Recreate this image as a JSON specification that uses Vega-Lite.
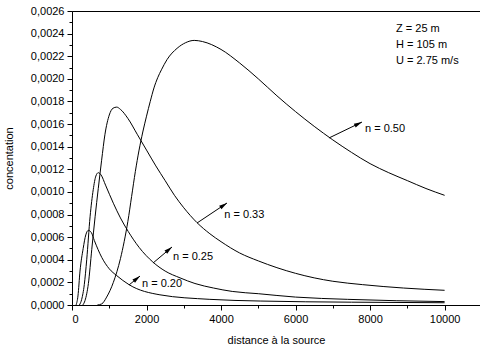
{
  "$schema": "https://vega.github.io/schema/vega-lite/v6.json",
  "width": 408,
  "height": 294,
  "autosize": {"type": "none"},
  "padding": {"left": 72, "top": 11, "right": 0, "bottom": 45},
  "background": "white",
  "config": {
    "view": {"stroke": "black", "strokeWidth": 1},
    "font": "Liberation Sans",
    "axis": {
      "domainColor": "black",
      "tickColor": "black",
      "labelColor": "black",
      "titleColor": "black",
      "labelFont": "Liberation Sans",
      "titleFont": "Liberation Sans",
      "labelFontSize": 11,
      "titleFontSize": 11,
      "titleFontWeight": "normal",
      "labelOverlap": false,
      "labelSeparation": -8,
      "grid": false
    }
  },
  "resolve": {"axis": {"x": "independent", "y": "independent"}},
  "datasets": {
    "curves": [
      {"n": "0.50", "x": 680, "c": 0},
      {"n": "0.50", "x": 800, "c": 0.00001},
      {"n": "0.50", "x": 930, "c": 0.00007},
      {"n": "0.50", "x": 1110, "c": 0.0002},
      {"n": "0.50", "x": 1300, "c": 0.00041},
      {"n": "0.50", "x": 1400, "c": 0.00056},
      {"n": "0.50", "x": 1500, "c": 0.00074},
      {"n": "0.50", "x": 1600, "c": 0.00096},
      {"n": "0.50", "x": 1700, "c": 0.00118},
      {"n": "0.50", "x": 1800, "c": 0.00137},
      {"n": "0.50", "x": 1900, "c": 0.00153},
      {"n": "0.50", "x": 2000, "c": 0.00167},
      {"n": "0.50", "x": 2100, "c": 0.0018},
      {"n": "0.50", "x": 2200, "c": 0.00192},
      {"n": "0.50", "x": 2300, "c": 0.00201},
      {"n": "0.50", "x": 2400, "c": 0.00208},
      {"n": "0.50", "x": 2550, "c": 0.00217},
      {"n": "0.50", "x": 2820, "c": 0.00227},
      {"n": "0.50", "x": 3050, "c": 0.00232},
      {"n": "0.50", "x": 3280, "c": 0.00234},
      {"n": "0.50", "x": 3500, "c": 0.00233},
      {"n": "0.50", "x": 4000, "c": 0.00226},
      {"n": "0.50", "x": 4500, "c": 0.00214},
      {"n": "0.50", "x": 5000, "c": 0.002},
      {"n": "0.50", "x": 5500, "c": 0.00185},
      {"n": "0.50", "x": 6000, "c": 0.00171},
      {"n": "0.50", "x": 6500, "c": 0.00158},
      {"n": "0.50", "x": 7000, "c": 0.00146},
      {"n": "0.50", "x": 7500, "c": 0.00135},
      {"n": "0.50", "x": 8000, "c": 0.00125},
      {"n": "0.50", "x": 8500, "c": 0.00117},
      {"n": "0.50", "x": 9000, "c": 0.0011},
      {"n": "0.50", "x": 9500, "c": 0.00103},
      {"n": "0.50", "x": 10000, "c": 0.00097},

      {"n": "0.33", "x": 290, "c": 0},
      {"n": "0.33", "x": 350, "c": 0.00004},
      {"n": "0.33", "x": 440, "c": 0.00019},
      {"n": "0.33", "x": 530, "c": 0.00049},
      {"n": "0.33", "x": 620, "c": 0.00078},
      {"n": "0.33", "x": 705, "c": 0.00103},
      {"n": "0.33", "x": 795, "c": 0.00128},
      {"n": "0.33", "x": 885, "c": 0.00151},
      {"n": "0.33", "x": 1000, "c": 0.00168},
      {"n": "0.33", "x": 1100, "c": 0.00174},
      {"n": "0.33", "x": 1200, "c": 0.00175},
      {"n": "0.33", "x": 1300, "c": 0.00173},
      {"n": "0.33", "x": 1500, "c": 0.00165},
      {"n": "0.33", "x": 1750, "c": 0.00151},
      {"n": "0.33", "x": 2000, "c": 0.00137},
      {"n": "0.33", "x": 2250, "c": 0.00123},
      {"n": "0.33", "x": 2500, "c": 0.0011},
      {"n": "0.33", "x": 2750, "c": 0.00097},
      {"n": "0.33", "x": 3000, "c": 0.00086},
      {"n": "0.33", "x": 3350, "c": 0.00073},
      {"n": "0.33", "x": 3700, "c": 0.00063},
      {"n": "0.33", "x": 4000, "c": 0.00056},
      {"n": "0.33", "x": 4500, "c": 0.00046},
      {"n": "0.33", "x": 5000, "c": 0.00039},
      {"n": "0.33", "x": 5500, "c": 0.00033},
      {"n": "0.33", "x": 6000, "c": 0.00028},
      {"n": "0.33", "x": 6500, "c": 0.00024},
      {"n": "0.33", "x": 7000, "c": 0.00021},
      {"n": "0.33", "x": 7800, "c": 0.00018},
      {"n": "0.33", "x": 8900, "c": 0.00015},
      {"n": "0.33", "x": 10000, "c": 0.00013},

      {"n": "0.25", "x": 200, "c": 0},
      {"n": "0.25", "x": 260, "c": 0.00005},
      {"n": "0.25", "x": 330, "c": 0.00018},
      {"n": "0.25", "x": 395, "c": 0.0004},
      {"n": "0.25", "x": 485, "c": 0.00078},
      {"n": "0.25", "x": 570, "c": 0.00102},
      {"n": "0.25", "x": 640, "c": 0.00114},
      {"n": "0.25", "x": 705, "c": 0.00117},
      {"n": "0.25", "x": 780, "c": 0.00115},
      {"n": "0.25", "x": 900, "c": 0.00106},
      {"n": "0.25", "x": 1110, "c": 0.0009},
      {"n": "0.25", "x": 1300, "c": 0.00077},
      {"n": "0.25", "x": 1510, "c": 0.00065},
      {"n": "0.25", "x": 1800, "c": 0.00051},
      {"n": "0.25", "x": 2170, "c": 0.00038},
      {"n": "0.25", "x": 2500, "c": 0.0003},
      {"n": "0.25", "x": 2900, "c": 0.00024},
      {"n": "0.25", "x": 3300, "c": 0.00019},
      {"n": "0.25", "x": 3800, "c": 0.00015},
      {"n": "0.25", "x": 4300, "c": 0.00012},
      {"n": "0.25", "x": 5000, "c": 0.0001},
      {"n": "0.25", "x": 6000, "c": 0.00007},
      {"n": "0.25", "x": 7400, "c": 0.00005},
      {"n": "0.25", "x": 10000, "c": 0.00003},

      {"n": "0.20", "x": 110, "c": 0},
      {"n": "0.20", "x": 160, "c": 0.00008},
      {"n": "0.20", "x": 215, "c": 0.0003},
      {"n": "0.20", "x": 300, "c": 0.0005},
      {"n": "0.20", "x": 370, "c": 0.00062},
      {"n": "0.20", "x": 440, "c": 0.00066},
      {"n": "0.20", "x": 520, "c": 0.00064},
      {"n": "0.20", "x": 600, "c": 0.00057},
      {"n": "0.20", "x": 800, "c": 0.00042},
      {"n": "0.20", "x": 1000, "c": 0.00032},
      {"n": "0.20", "x": 1200, "c": 0.00026},
      {"n": "0.20", "x": 1530, "c": 0.00018},
      {"n": "0.20", "x": 2360, "c": 0.00009},
      {"n": "0.20", "x": 3700, "c": 0.00005},
      {"n": "0.20", "x": 5050, "c": 0.000035},
      {"n": "0.20", "x": 7500, "c": 0.000025},
      {"n": "0.20", "x": 10000, "c": 0.00002}
    ],
    "arrows": [
      {"label": "n = 0.50", "xs": 6897, "ys": 0.001477, "xe": 7783, "ye": 0.001618, "tx": 7864, "ty": 0.001557},
      {"label": "n = 0.33", "xs": 3355, "ys": 0.000725, "xe": 4160, "ye": 0.000902, "tx": 4087, "ty": 0.000796},
      {"label": "n = 0.25", "xs": 2174, "ys": 0.000371, "xe": 2684, "ye": 0.000513, "tx": 2711, "ty": 0.000425},
      {"label": "n = 0.20", "xs": 1530, "ys": 0.000177, "xe": 1825, "ye": 0.000256, "tx": 1879, "ty": 0.000186}
    ],
    "params": [
      {"label": "Z = 25 m", "x": 8696, "y": 0.002441},
      {"label": "H = 105 m", "x": 8696, "y": 0.0023},
      {"label": "U = 2.75 m/s", "x": 8696, "y": 0.002158}
    ]
  },
  "layer": [
    {
      "data": {"name": "curves"},
      "mark": {"type": "line", "color": "black", "strokeWidth": 1, "interpolate": "monotone", "clip": true},
      "encoding": {
        "x": {
          "field": "x", "type": "quantitative",
          "scale": {"domain": [0, 10950], "nice": false, "zero": false},
          "axis": {
            "orient": "bottom",
            "title": "distance à la source",
            "values": [0, 2000, 4000, 6000, 8000, 10000],
            "format": "d",
            "labelOverlap": false,
            "tickSize": 5,
            "labelPadding": 3,
            "titlePadding": 10
          }
        },
        "y": {
          "field": "c", "type": "quantitative",
          "scale": {"domain": [0, 0.0026], "nice": false, "zero": false},
          "axis": {
            "orient": "left",
            "title": "concentation",
            "values": [0, 0.0002, 0.0004, 0.0006, 0.0008, 0.001, 0.0012, 0.0014, 0.0016, 0.0018, 0.002, 0.0022, 0.0024, 0.0026],
            "labelOverlap": false,
            "labelExpr": "replace(format(datum.value, '.4f'), '.', ',')",
            "tickSize": 5,
            "labelPadding": 3,
            "titlePadding": 16
          }
        },
        "detail": {"field": "n"}
      }
    },
    {
      "data": {"name": "arrows"},
      "mark": {"type": "rule", "color": "black", "strokeWidth": 1},
      "encoding": {
        "x": {"field": "xs", "type": "quantitative", "axis": {"orient": "bottom", "values": [1000, 3000, 5000, 7000, 9000], "labels": false, "domain": false, "tickSize": 3, "title": null}},
        "y": {"field": "ys", "type": "quantitative", "axis": {"orient": "left", "values": [0.0001, 0.0003, 0.0005, 0.0007, 0.0009, 0.0011, 0.0013, 0.0015, 0.0017, 0.0019, 0.0021, 0.0023, 0.0025], "labels": false, "domain": false, "tickSize": 3, "title": null}},
        "x2": {"field": "xe"},
        "y2": {"field": "ye"}
      }
    },
    {
      "data": {"name": "arrows"},
      "mark": {
        "type": "point", "filled": true, "color": "black", "opacity": 1, "size": 49,
        "shape": "M0,0L0.6,2.3L-0.6,2.3Z",
        "angle": {"expr": "atan2(scale('x', datum.xe) - scale('x', datum.xs), scale('y', datum.ys) - scale('y', datum.ye)) * 180 / PI"}
      },
      "encoding": {
        "x": {"field": "xe", "type": "quantitative", "axis": null},
        "y": {"field": "ye", "type": "quantitative", "axis": null}
      }
    },
    {
      "data": {"name": "arrows"},
      "mark": {"type": "text", "align": "left", "baseline": "middle", "fontSize": 11, "font": "Liberation Sans", "color": "black"},
      "encoding": {
        "x": {"field": "tx", "type": "quantitative", "axis": null},
        "y": {"field": "ty", "type": "quantitative", "axis": null},
        "text": {"field": "label"}
      }
    },
    {
      "data": {"name": "params"},
      "mark": {"type": "text", "align": "left", "baseline": "middle", "fontSize": 11, "font": "Liberation Sans", "color": "black"},
      "encoding": {
        "x": {"field": "x", "type": "quantitative", "axis": null},
        "y": {"field": "y", "type": "quantitative", "axis": null},
        "text": {"field": "label"}
      }
    }
  ]
}
